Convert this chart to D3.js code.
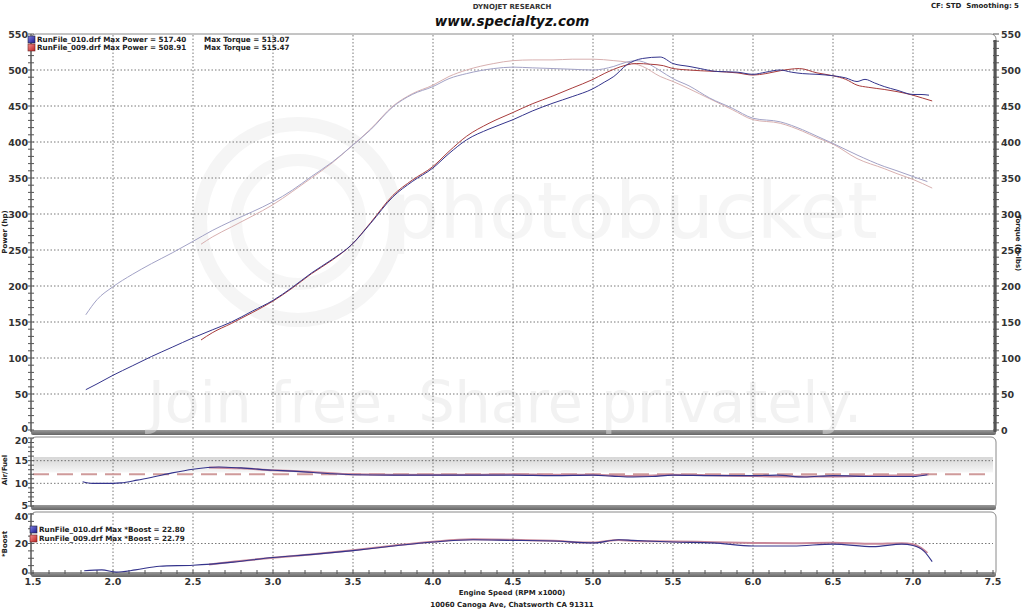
<!DOCTYPE html>
<html><head><meta charset="utf-8">
<script src="https://cdn.jsdelivr.net/npm/d3@7"></script>
<style>
html,body{margin:0;padding:0;background:#fff;}
svg{display:block;}
text{font-family:"DejaVu Sans",Verdana,sans-serif;}
</style></head>
<body>
<svg id="c" width="1024" height="609"></svg>
<script>
// ---------- DATA ----------
const rpmP010 = [1.83,1.9,2.0,2.12,2.24,2.37,2.5,2.62,2.74,2.87,3.0,3.12,3.24,3.37,3.49,3.61,3.75,3.87,4.0,4.1,4.21,4.35,4.5,4.62,4.75,4.87,5.0,5.07,5.13,5.21,5.31,5.42,5.5,5.6,5.67,5.77,5.9,6.0,6.08,6.17,6.24,6.31,6.4,6.5,6.58,6.65,6.7,6.76,6.82,6.9,7.0,7.05,7.1];
const power010 = [56,64,76,89,102,115,128,139,150,165,180,198,218,237,257,287,324,345,364,384,403,418,431,443,454,463,474,483,491,507,516,518,509,505,502,498,497,494,497,500,497,495,494,492,489,484,487,482,477,472,466,466,465];
const rpmP009 = [2.55,2.62,2.74,2.87,3.0,3.12,3.24,3.37,3.49,3.61,3.75,3.87,4.0,4.1,4.21,4.35,4.5,4.62,4.75,4.87,5.0,5.07,5.13,5.21,5.27,5.36,5.44,5.5,5.6,5.67,5.77,5.9,6.0,6.08,6.17,6.29,6.4,6.5,6.58,6.65,6.72,6.82,6.9,7.0,7.06,7.12];
const power009 = [125,135,148,163,179,197,217,236,257,288,326,347,366,387,408,426,441,453,464,475,487,495,501,507,509,508,506,502,500,499,498,496,493,495,499,502,496,492,487,479,476,473,470,465,461,457];
const rpmT010 = [1.83,1.9,2.0,2.12,2.24,2.37,2.5,2.62,2.74,2.87,3.0,3.12,3.24,3.37,3.49,3.61,3.75,3.87,4.0,4.1,4.21,4.38,4.5,4.62,4.75,4.87,5.0,5.13,5.21,5.27,5.36,5.42,5.5,5.6,5.73,5.87,6.0,6.17,6.31,6.4,6.5,6.65,6.82,6.9,7.0,7.09];
const torque010 = [160,181,199,216,231,246,262,277,290,303,317,333,352,372,394,417,449,466,477,488,495,502,504,503,502,501,500,505,511,513,507,499,488,478,461,447,433,428,417,408,398,382,366,360,352,345];
const rpmT009 = [2.55,2.62,2.74,2.87,3.0,3.12,3.24,3.37,3.49,3.61,3.75,3.87,4.0,4.1,4.21,4.38,4.5,4.62,4.75,4.87,5.0,5.13,5.21,5.31,5.42,5.5,5.6,5.73,5.87,6.0,6.17,6.31,6.4,6.5,6.65,6.82,6.9,7.0,7.12];
const torque009 = [258,268,282,297,313,331,350,371,394,418,450,467,479,491,500,509,513,514,514,515,515,513,511,505,491,484,474,460,445,431,426,415,406,397,377,363,356,348,336];
const rpmA010 = [1.81,1.87,2.0,2.05,2.15,2.25,2.37,2.5,2.66,2.8,3.0,3.12,3.25,3.37,3.5,3.75,4.0,4.25,4.5,4.75,5.0,5.12,5.25,5.37,5.5,5.75,6.0,6.15,6.32,6.5,6.75,7.0,7.09];
const afr010 = [10.35,10.0,10.0,10.1,10.7,11.4,12.3,13.1,13.6,13.4,12.9,12.7,12.4,12.1,11.9,11.8,11.8,11.8,11.8,11.7,11.8,11.6,11.4,11.5,11.8,11.7,11.7,11.8,11.4,11.7,11.5,11.5,11.9];
const rpmA009 = [2.6,2.8,3.0,3.25,3.5,3.75,4.0,4.25,4.5,4.75,5.0,5.25,5.5,5.75,6.0,6.25,6.5,6.75,7.0,7.1];
const afr009 = [13.5,13.3,12.9,12.5,12.0,11.9,11.9,11.9,12.0,11.9,11.9,11.6,11.9,11.8,11.6,11.5,11.5,11.7,11.8,12.0];
const rpmB010 = [1.82,1.93,2.02,2.14,2.29,2.5,2.75,3.0,3.25,3.5,3.75,4.0,4.25,4.5,4.75,5.0,5.16,5.25,5.5,5.75,6.0,6.25,6.5,6.75,6.93,7.0,7.07,7.12];
const boost010 = [1.5,2.1,0.6,2.1,4.6,5.3,7.4,10.5,12.6,15.2,18.3,21.0,22.5,22.1,21.7,20.4,22.5,22.1,21.0,20.4,18.3,18.3,19.6,17.9,19.6,18.7,14.7,7.7];
const rpmB009 = [2.6,2.75,3.0,3.25,3.5,3.75,4.0,4.25,4.5,4.75,5.0,5.16,5.25,5.5,5.75,6.0,6.25,6.5,6.75,6.93,7.0,7.05,7.09];
const boost009 = [5.8,7.6,10.4,12.7,15.4,18.5,21.2,22.8,22.6,21.8,20.6,22.3,21.7,21.4,20.9,20.4,20.2,20.5,19.8,20.2,19.5,17.0,13.5];
const afrTarget = 12;
const rpmTicks = [1.5,2.0,2.5,3.0,3.5,4.0,4.5,5.0,5.5,6.0,6.5,7.0,7.5];
const powerTicks = [0,50,100,150,200,250,300,350,400,450,500,550];
const afrTicks = [5,10,15,20];
const boostTicks = [0,20,40];
const legendMain = ["RunFile_010.drf Max Power = 517.40", "RunFile_009.drf Max Power = 508.91"];
const legendTorque = ["Max Torque = 513.07", "Max Torque = 515.47"];
const legendBoost = ["RunFile_010.drf Max *Boost = 22.80", "RunFile_009.drf Max *Boost = 22.79"];

// ---------- SCALES ----------
const svg = d3.select("#c");
const x = d3.scaleLinear().domain([1.5,7.5]).range([33,993]);
const yP = d3.scaleLinear().domain([0,550]).range([430,34]);
const yA = d3.scaleLinear().domain([5,20]).range([506,438]);
const yB = d3.scaleLinear().domain([0,40]).range([573,514]);

const BLUE="#34348c", RED="#a83c3c", BLUE_L="#a2a2c6", RED_L="#d8b0b0", RED_M="#c9889a";

// defs
const defs = svg.append("defs");
const gband = defs.append("linearGradient").attr("id","band").attr("x1",0).attr("y1",0).attr("x2",0).attr("y2",1);
gband.append("stop").attr("offset","0%").attr("stop-color","#d6d6d6");
gband.append("stop").attr("offset","100%").attr("stop-color","#f7f7f7");
const gbar = defs.append("linearGradient").attr("id","bar").attr("x1",0).attr("y1",0).attr("x2",0).attr("y2",1);
gbar.append("stop").attr("offset","0%").attr("stop-color","#9a9a9a");
gbar.append("stop").attr("offset","100%").attr("stop-color","#666");
const gsqB = defs.append("linearGradient").attr("id","sqB").attr("x1",0).attr("y1",0).attr("x2",1).attr("y2",1);
gsqB.append("stop").attr("offset","0%").attr("stop-color","#8080e0");
gsqB.append("stop").attr("offset","100%").attr("stop-color","#1a1a90");
const gsqR = defs.append("linearGradient").attr("id","sqR").attr("x1",0).attr("y1",0).attr("x2",1).attr("y2",1);
gsqR.append("stop").attr("offset","0%").attr("stop-color","#f09090");
gsqR.append("stop").attr("offset","100%").attr("stop-color","#c02020");

// ---------- HEADER ----------
svg.append("text").attr("x",512).attr("y",9).attr("text-anchor","middle")
  .attr("font-size",7).attr("font-weight","bold").attr("fill","#333").text("DYNOJET RESEARCH");
svg.append("text").attr("x",512).attr("y",26).attr("text-anchor","middle")
  .attr("font-size",13.5).attr("font-weight","bold").attr("font-style","italic").attr("fill","#111").text("www.specialtyz.com");
svg.append("text").attr("x",1019).attr("y",8).attr("text-anchor","end")
  .attr("font-size",7).attr("font-weight","bold").attr("fill","#222").attr("xml:space","preserve").text("CF: STD  Smoothing: 5");

// ---------- PANELS ----------
function panel(top, bottom){
  const g = svg.append("g");
  g.append("rect").attr("x",31).attr("y",top).attr("width",996-31).attr("height",bottom-top)
    .attr("rx",5).attr("fill","#fff").attr("stroke","#8a8a8a").attr("stroke-width",1);
  g.append("rect").attr("x",31).attr("y",bottom-4).attr("width",996-31).attr("height",5)
    .attr("rx",2).attr("fill","url(#bar)");
  return g;
}
panel(34, 434);
panel(437, 509);
panel(512, 576);

// watermark (faint)
const wm = svg.append("g").attr("opacity",0.5);
wm.append("circle").attr("cx",298).attr("cy",222).attr("r",98).attr("fill","none").attr("stroke","#ececec").attr("stroke-width",14);
wm.append("circle").attr("cx",298).attr("cy",222).attr("r",62).attr("fill","none").attr("stroke","#eeeeee").attr("stroke-width",12);
wm.append("text").attr("x",390).attr("y",238).attr("font-size",78).attr("fill","#ececec").attr("font-family","Lato, sans-serif").text("photobucket");
wm.append("text").attr("x",148).attr("y",422).attr("font-size",57).attr("fill","#e6e6e6").attr("font-family","Lato, sans-serif").text("Join free. Share privately.");

// AFR band and target
svg.append("rect").attr("x",33).attr("width",960).attr("y",yA(15.8)).attr("height",yA(12.4)-yA(15.8)).attr("fill","url(#band)");

// ---------- GRIDS ----------
const gridCol="#555", dash="1.5,2";
function vgrid(top,bottom){
  svg.append("g").selectAll("line").data(rpmTicks.filter(d=>d>1.5&&d<7.5)).join("line")
    .attr("x1",d=>x(d)).attr("x2",d=>x(d)).attr("y1",top).attr("y2",bottom)
    .attr("stroke",gridCol).attr("stroke-dasharray",dash).attr("stroke-width",0.8);
}
vgrid(35,430); vgrid(438,505); vgrid(513,573);
svg.append("g").selectAll("line").data(powerTicks.filter(d=>d>0&&d<550)).join("line")
  .attr("x1",33).attr("x2",993).attr("y1",d=>yP(d)).attr("y2",d=>yP(d))
  .attr("stroke",gridCol).attr("stroke-dasharray",dash).attr("stroke-width",0.8);
svg.append("g").selectAll("line").data([10,15]).join("line")
  .attr("x1",33).attr("x2",993).attr("y1",d=>yA(d)).attr("y2",d=>yA(d))
  .attr("stroke",gridCol).attr("stroke-dasharray",dash).attr("stroke-width",0.8);
svg.append("g").selectAll("line").data([20]).join("line")
  .attr("x1",33).attr("x2",993).attr("y1",d=>yB(d)).attr("y2",d=>yB(d))
  .attr("stroke",gridCol).attr("stroke-dasharray",dash).attr("stroke-width",0.8);

svg.append("line").attr("x1",33).attr("x2",993).attr("y1",yA(afrTarget)).attr("y2",yA(afrTarget))
  .attr("stroke","#cf9a9a").attr("stroke-width",2).attr("stroke-dasharray","16,8");

// ---------- AXES ----------
function leftAxis(scale, ticks, minorStep, top, bottom, shift){
  const g = svg.append("g");
  g.append("line").attr("x1",31).attr("x2",31).attr("y1",top).attr("y2",bottom).attr("stroke","#555").attr("stroke-width",1.2);
  const [d0,d1]=scale.domain();
  const minors = d3.range(d0, d1+1e-9, minorStep);
  g.selectAll("line.mn").data(minors).join("line").attr("class","mn")
    .attr("x1",28).attr("x2",34).attr("y1",d=>scale(d)).attr("y2",d=>scale(d)).attr("stroke","#555").attr("stroke-width",1);
  g.selectAll("text").data(ticks).join("text")
    .attr("x",28).attr("y",d=>scale(d)+3.5+(shift[d]||0)).attr("text-anchor","end")
    .attr("font-size",9.5).attr("font-weight","bold").attr("fill","#333").text(d=>d);
}
leftAxis(yP, powerTicks, 10, 34, 432, {0:-1.5});
leftAxis(yA, afrTicks, 1, 438, 507, {20:2.5, 5:-1});
leftAxis(yB, boostTicks, 5, 513, 575, {40:2, 0:-2});

// right torque axis
const ra = svg.append("g");
ra.append("line").attr("x1",995).attr("x2",995).attr("y1",40).attr("y2",432).attr("stroke","#555").attr("stroke-width",3);
ra.selectAll("line.mn").data(d3.range(0,551,10)).join("line").attr("class","mn")
  .attr("x1",993).attr("x2",999).attr("y1",d=>yP(d)).attr("y2",d=>yP(d)).attr("stroke","#555").attr("stroke-width",1);
ra.selectAll("text").data(powerTicks).join("text")
  .attr("x",1001).attr("y",d=>yP(d)+3.5).attr("font-size",9.5).attr("font-weight","bold").attr("fill","#333").text(d=>d);

// bottom x axis
const xa = svg.append("g");
xa.selectAll("line").data(d3.range(15,76,1).map(d=>d/10)).join("line")
  .attr("x1",d=>x(d)).attr("x2",d=>x(d)).attr("y1",570).attr("y2",574).attr("stroke","#555").attr("stroke-width",1);
xa.selectAll("text").data(rpmTicks).join("text")
  .attr("x",d=>x(d)).attr("y",585).attr("text-anchor","middle")
  .attr("font-size",9.5).attr("font-weight","bold").attr("fill","#333").text(d=>d.toFixed(1));

svg.append("text").attr("x",512).attr("y",595).attr("text-anchor","middle")
  .attr("font-size",7).attr("font-weight","bold").attr("fill","#222").text("Engine Speed (RPM x1000)");
svg.append("text").attr("x",512).attr("y",607).attr("text-anchor","middle")
  .attr("font-size",7).attr("font-weight","bold").attr("fill","#222").text("10060 Canoga Ave, Chatsworth CA 91311");

function vlabel(txt, cx, cy, rot){
  svg.append("text").attr("transform",`translate(${cx},${cy}) rotate(${rot})`).attr("text-anchor","middle")
    .attr("font-size",7).attr("font-weight","bold").attr("fill","#222").text(txt);
}
vlabel("Power (hp)", 7, 232, -90);
vlabel("Air/Fuel", 7, 470, -90);
vlabel("*Boost", 7, 544, -90);
vlabel("Torque (ft-lbs)", 1016, 243, 90);

// ---------- LINES ----------
function series(rpms, vals, yS, color, w){
  const pts = rpms.map((r,i)=>[r, vals[i]]);
  svg.append("path").datum(pts)
    .attr("d", d3.line().x(d=>x(d[0])).y(d=>yS(d[1])).curve(d3.curveMonotoneX))
    .attr("fill","none").attr("stroke",color).attr("stroke-width",w).attr("stroke-linejoin","round");
}
series(rpmT009, torque009, yP, RED_L, 1);
series(rpmT010, torque010, yP, BLUE_L, 1);
series(rpmP009, power009, yP, RED, 1);
series(rpmP010, power010, yP, BLUE, 1);
series(rpmA009, afr009, yA, RED_M, 2);
series(rpmA010, afr010, yA, BLUE, 1.1);
series(rpmB009, boost009, yB, RED_M, 2);
series(rpmB010, boost010, yB, BLUE, 1.1);

// ---------- LEGENDS ----------
function legend(items, x0, y0, step){
  items.forEach((t,i)=>{
    svg.append("rect").attr("x",x0).attr("y",y0+i*step-6).attr("width",7).attr("height",7)
      .attr("fill", i===0 ? "url(#sqB)" : "url(#sqR)").attr("stroke", i===0?"#223":"#622").attr("stroke-width",0.6);
    svg.append("text").attr("x",x0+9).attr("y",y0+i*step).attr("font-size",7.2).attr("font-weight","bold").attr("fill","#222").text(t);
  });
}
legend(legendMain, 28, 42, 8);
legendTorque.forEach((t,i)=>{
  svg.append("text").attr("x",204).attr("y",42+i*8).attr("font-size",7.2).attr("font-weight","bold").attr("fill","#222").text(t);
});
legend(legendBoost, 30, 532, 9);
</script>
</body></html>
